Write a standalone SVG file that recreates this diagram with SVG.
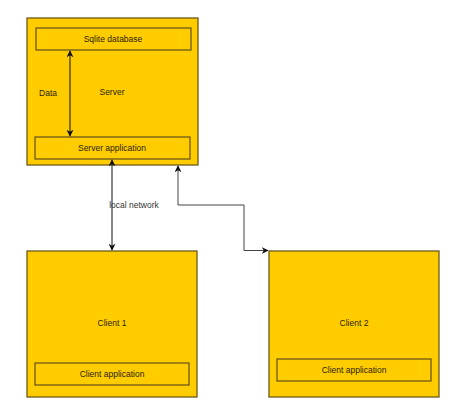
<svg xmlns="http://www.w3.org/2000/svg" width="474" height="419" viewBox="0 0 474 419">
<defs>
<style>
.box{fill:#ffcc00;stroke:#6d5a1a;stroke-width:1.3}
.t{font-family:"Liberation Sans",Arial,sans-serif;font-size:8.5px;fill:#2b2200;text-anchor:middle;dominant-baseline:central}
.c{fill:none;stroke:#111;stroke-width:1}
.c2{fill:none;stroke:#444;stroke-width:1}
</style>
<marker id="ah" viewBox="0 0 10 10" refX="9" refY="5" markerWidth="7" markerHeight="7" orient="auto-start-reverse" markerUnits="userSpaceOnUse">
<path d="M0,0 L10,5 L0,10 L3,5 Z" fill="#111"/>
</marker>
</defs>
<rect width="474" height="419" fill="#fff"/>
<g id="server">
<rect class="box" x="27" y="18" width="171" height="147"/>
<text class="t" x="112" y="92">Server</text>
</g>
<g id="sqlite">
<rect class="box" x="36" y="28" width="155" height="22"/>
<text class="t" x="113" y="39">Sqlite database</text>
</g>
<g id="serverapp">
<rect class="box" x="35" y="137" width="155" height="22"/>
<text class="t" x="112" y="148">Server application</text>
</g>
<g id="client1">
<rect class="box" x="27" y="251" width="170" height="146"/>
<text class="t" x="112" y="323">Client 1</text>
</g>
<g id="clientapp1">
<rect class="box" x="35" y="363" width="154" height="22"/>
<text class="t" x="112" y="374">Client application</text>
</g>
<g id="client2">
<rect class="box" x="269" y="251" width="170" height="146"/>
<text class="t" x="354" y="323">Client 2</text>
</g>
<g id="clientapp2">
<rect class="box" x="277" y="359" width="154" height="22"/>
<text class="t" x="354" y="370">Client application</text>
</g>
<g id="connectors">
<line class="c" x1="70" y1="51" x2="70" y2="136" marker-start="url(#ah)" marker-end="url(#ah)"/>
<text class="t" x="48" y="93">Data</text>
<line class="c" x1="112" y1="160" x2="112" y2="250" marker-start="url(#ah)" marker-end="url(#ah)"/>
<text class="t" x="134" y="205" style="fill:#333">local network</text>
<polyline class="c2" points="178,166 178,205 244,205 244,250.5 268,250.5" marker-start="url(#ah)" marker-end="url(#ah)"/>
</g>
</svg>
